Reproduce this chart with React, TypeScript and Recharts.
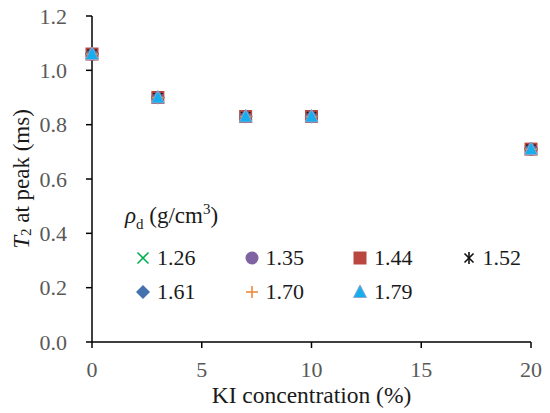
import React from "react";
import {
  ScatterChart,
  Scatter,
  XAxis,
  YAxis,
  Legend,
} from "recharts";

const KI = [0, 3, 7, 10, 20];

const D126 = [1.06, 0.9, 0.83, 0.83, 0.71];
const D135 = [1.06, 0.9, 0.83, 0.83, 0.71];
const D144 = [1.06, 0.9, 0.83, 0.83, 0.71];
const D152 = [1.06, 0.9, 0.83, 0.83, 0.71];
const D161 = [1.06, 0.9, 0.83, 0.83, 0.71];
const D170 = [1.06, 0.9, 0.83, 0.83, 0.71];
const D179 = [1.06, 0.9, 0.83, 0.83, 0.71];

const X_TICKS = [0, 5, 10, 15, 20];
const Y_TICKS = [0, 0.2, 0.4, 0.6, 0.8, 1.0, 1.2];

const FONT = "Liberation Serif, Times New Roman, serif";

type Kind = "x" | "circle" | "square" | "star" | "diamond" | "plus" | "triangle";

const SERIES: { name: string; values: number[]; kind: Kind; color: string }[] = [
  { name: "1.26", values: D126, kind: "x", color: "#00B050" },
  { name: "1.35", values: D135, kind: "circle", color: "#7F62A1" },
  { name: "1.44", values: D144, kind: "square", color: "#B9473F" },
  { name: "1.52", values: D152, kind: "star", color: "#111111" },
  { name: "1.61", values: D161, kind: "diamond", color: "#4472AF" },
  { name: "1.70", values: D170, kind: "plus", color: "#EE8A3C" },
  { name: "1.79", values: D179, kind: "triangle", color: "#16AEEF" },
];

function Marker({ kind, color, cx, cy }: { kind: Kind; color: string; cx: number; cy: number }) {
  const h = 5.5;
  switch (kind) {
    case "x":
      return (
        <g stroke={color} strokeWidth={1.6}>
          <line x1={cx - h} y1={cy - h} x2={cx + h} y2={cy + h} />
          <line x1={cx - h} y1={cy + h} x2={cx + h} y2={cy - h} />
        </g>
      );
    case "circle":
      return <circle cx={cx} cy={cy} r={6.5} fill={color} />;
    case "square":
      return <rect x={cx - 6.5} y={cy - 6.5} width={13} height={13} fill={color} />;
    case "star":
      return (
        <g stroke={color} strokeWidth={1.6}>
          <line x1={cx - 4.5} y1={cy - 4.5} x2={cx + 4.5} y2={cy + 4.5} />
          <line x1={cx - 4.5} y1={cy + 4.5} x2={cx + 4.5} y2={cy - 4.5} />
          <line x1={cx} y1={cy - 6} x2={cx} y2={cy + 6} />
        </g>
      );
    case "diamond":
      return (
        <polygon
          points={`${cx},${cy - 7} ${cx + 7},${cy} ${cx},${cy + 7} ${cx - 7},${cy}`}
          fill={color}
        />
      );
    case "plus":
      return (
        <g stroke={color} strokeWidth={1.6}>
          <line x1={cx - 6} y1={cy} x2={cx + 6} y2={cy} />
          <line x1={cx} y1={cy - 6} x2={cx} y2={cy + 6} />
        </g>
      );
    case "triangle":
      return (
        <polygon
          points={`${cx},${cy - 7} ${cx + 6.5},${cy + 5.5} ${cx - 6.5},${cy + 5.5}`}
          fill={color}
          stroke="#8FA6CF"
          strokeWidth={1}
        />
      );
  }
}

function LegendBox() {
  const rows = [SERIES.slice(0, 4), SERIES.slice(4)];
  return (
    <div style={{ fontFamily: FONT, color: "#1a1a1a", fontSize: 22, textAlign: "left" }}>
      <div
        style={{
          marginLeft: -10,
          height: 36,
          fontSize: 23,
          lineHeight: "22px",
          whiteSpace: "nowrap",
        }}
      >
        <i>ρ</i>
        <sub style={{ fontSize: 15, lineHeight: 0 }}>d</sub> (g/cm
        <sup style={{ fontSize: 15, lineHeight: 0 }}>3</sup>)
      </div>
      {rows.map((row, r) => (
        <div key={r} style={{ display: "flex", height: 34, alignItems: "center" }}>
          {row.map((s) => (
            <div key={s.name} style={{ display: "flex", alignItems: "center", width: 108.5 }}>
              <svg width={16} height={16} style={{ marginRight: 6 }}>
                <Marker kind={s.kind} color={s.color} cx={8} cy={8} />
              </svg>
              <span>{s.name}</span>
            </div>
          ))}
        </div>
      ))}
    </div>
  );
}

export default function App() {
  return (
    <div style={{ position: "absolute", left: 0, top: 0, background: "#fff" }}>
      <ScatterChart width={550} height={413} margin={{ top: 16, right: 19, bottom: 41, left: 32 }}>
        <XAxis
          type="number"
          dataKey="x"
          domain={[0, 20]}
          ticks={X_TICKS}
          height={30}
          axisLine={{ stroke: "#000", strokeWidth: 1.5 }}
          tickLine={{ stroke: "#000", strokeWidth: 1.5 }}
          tickSize={6}
          tickMargin={13}
          tick={{ fill: "#595959", fontSize: 22, fontFamily: FONT }}
          label={(props: any) => {
            const vb = props.viewBox;
            return (
              <text
                x={vb.x + vb.width / 2}
                y={vb.y + 61}
                textAnchor="middle"
                fill="#1a1a1a"
                fontSize={23.5}
                fontFamily={FONT}
              >
                KI concentration (%)
              </text>
            );
          }}
        />
        <YAxis
          type="number"
          dataKey="y"
          domain={[0, 1.2]}
          ticks={Y_TICKS}
          width={60}
          axisLine={{ stroke: "#000", strokeWidth: 1.5 }}
          tickLine={{ stroke: "#000", strokeWidth: 1.5 }}
          tickSize={6}
          tickMargin={19}
          tickFormatter={(v: number) => v.toFixed(1)}
          tick={{ fill: "#595959", fontSize: 22, fontFamily: FONT }}
          label={(props: any) => {
            const vb = props.viewBox;
            const cy = vb.y + vb.height / 2;
            return (
              <text
                x={21}
                y={cy}
                transform={`rotate(-90, 21, ${cy})`}
                textAnchor="middle"
                dominantBaseline="central"
                fill="#1a1a1a"
                fontSize={23}
                fontFamily={FONT}
              >
                <tspan fontStyle="italic">T</tspan>
                <tspan fontSize={15} dy={5}>2</tspan>
                <tspan dy={-5}> at peak (ms)</tspan>
              </text>
            );
          }}
        />
        <Legend
          layout="horizontal"
          verticalAlign="middle"
          align="center"
          content={() => <LegendBox />}
          wrapperStyle={{ position: "absolute", left: 135, top: 205, width: 440, height: 110 }}
        />
        {SERIES.map((s) => (
          <Scatter
            key={s.name}
            name={s.name}
            data={KI.map((x, i) => ({ x, y: s.values[i] }))}
            isAnimationActive={false}
            shape={(p: any) => <Marker kind={s.kind} color={s.color} cx={p.cx} cy={p.cy} />}
          />
        ))}
      </ScatterChart>
    </div>
  );
}
